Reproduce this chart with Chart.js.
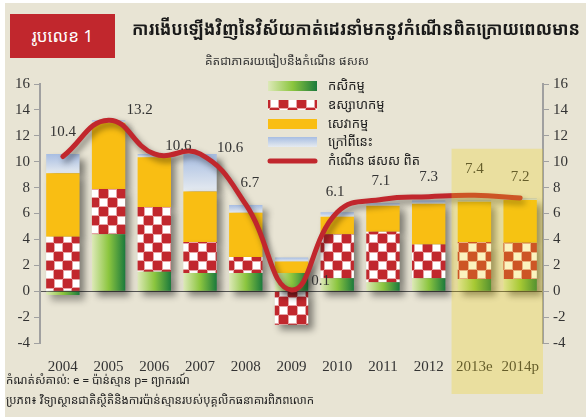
<!DOCTYPE html>
<html>
<head>
<meta charset="utf-8">
<script src="https://cdn.jsdelivr.net/npm/chart.js@4.4.1/dist/chart.umd.min.js"></script>
<style>
  html, body { margin: 0; padding: 0; background: #ffffff; }
  #wrap { position: relative; width: 586px; height: 417px; overflow: hidden; }
  #bg { position: absolute; left: 5px; top: 3px; right: 0; bottom: 0; background: #e8e4d4; }
  #chart { position: absolute; left: 0; top: 0; }
  .kh { font-family: "Noto Sans Khmer", "Khmer OS", "Hanuman", "DejaVu Sans", sans-serif; position: absolute; white-space: nowrap; }
  #badge { left: 10px; top: 14px; width: 105px; height: 44px; background: #c1272d; color: #fff; font-size: 17px; line-height: 44px; text-align: center; }
  #title { left: 132px; top: 16px; font-size: 18px; font-weight: bold; color: #1a1a1a; transform-origin: 0 0; }
  #sub { left: 205px; top: 52px; font-size: 12px; color: #333; }
  #note { left: 6px; top: 372px; font-size: 11.5px; color: #222; }
  #src { left: 6px; top: 392px; font-size: 11.5px; color: #222; }
</style>
</head>
<body>
<div id="wrap">
  <div id="bg"></div>
  <canvas id="chart" width="586" height="417"></canvas>
  <div class="kh" id="badge">រូបលេខ 1</div>
  <div class="kh" id="title">ការងើបឡើងវិញនៃវិស័យកាត់ដេរនាំមកនូវកំណើនពិតក្រោយពេលមាន</div>
  <div class="kh" id="sub">គិតជាភាគរយធៀបនឹងកំណើន ផសស</div>
  <div class="kh" id="note">កំណត់សំគាល់: e = ប៉ាន់ស្មាន p= ព្យាករណ៍</div>
  <div class="kh" id="src">ប្រភព៖ វិទ្យាស្ថានជាតិស្ថិតិនិងការប៉ាន់ស្មានរបស់បុគ្គលិកធនាគារពិភពលោក</div>
</div>
<script>
const years = ['2004', '2005', '2006', '2007', '2008', '2009', '2010', '2011', '2012', '2013e', '2014p'];
const agriculture = [-0.3, 4.4, 1.5, 1.4, 1.4, 1.4, 1.0, 0.7, 1.0, 0.95, 0.95];
const industry    = [4.2, 3.5, 5.0, 2.4, 1.25, -2.6, 3.4, 3.9, 2.6, 2.85, 2.8];
const services    = [4.9, 5.1, 3.85, 3.9, 3.4, 0.9, 1.35, 2.0, 3.15, 3.1, 3.3];
const other       = [1.5, 0.2, 0.25, 2.9, 0.6, 0.3, 0.35, 0.2, 0.25, 0.1, 0.1];
const gdpGrowth   = [10.4, 13.2, 10.6, 10.6, 6.7, 0.1, 6.1, 7.1, 7.3, 7.4, 7.2];
const seriesNames = ['កសិកម្ម', 'ឧស្សាហកម្ម', 'សេវាកម្ម', 'ក្រៅពីនេះ', 'កំណើន ផសស ពិត'];
const yTicks = [-4, -2, 0, 2, 4, 6, 8, 10, 12, 14, 16];

const RED = '#c1272d';
const serif = 'Liberation Serif';

// fit the title into the space right of the badge
const titleEl = document.getElementById('title');
const tw = titleEl.getBoundingClientRect().width;
if (tw > 448) titleEl.style.transform = 'scaleX(' + (448 / tw) + ')';

// checker pattern for industry (red / white with soft pink edges)
function checker(size) {
  const c = document.createElement('canvas');
  c.width = size * 2; c.height = size * 2;
  const g = c.getContext('2d');
  g.fillStyle = '#e7a3a5'; g.fillRect(0, 0, size * 2, size * 2);
  g.fillStyle = '#ffffff';
  g.fillRect(size + 1, 1, size - 2, size - 2);
  g.fillRect(1, size + 1, size - 2, size - 2);
  g.fillStyle = RED;
  g.fillRect(0, 0, size, size);
  g.fillRect(size, size, size, size);
  return g.createPattern(c, 'repeat');
}
const ctx = document.getElementById('chart').getContext('2d');
const checkerFill = checker(9);

function barEdges(chart, i) {
  const x = chart.scales.x;
  const w = (x.getPixelForValue(1) - x.getPixelForValue(0)) * 0.73;
  const cx = x.getPixelForValue(i);
  return [cx - w / 2, cx + w / 2];
}
function greenFill(c) {
  const chart = c.chart;
  if (!chart.chartArea || c.dataIndex === undefined) return '#8cc63f';
  const [l, r] = barEdges(chart, c.dataIndex);
  const g = chart.ctx.createLinearGradient(l, 0, r, 0);
  g.addColorStop(0, '#dde9b8');
  g.addColorStop(0.5, '#8cc63f');
  g.addColorStop(1, '#1b7a3c');
  return g;
}
function blueFill(c) {
  const chart = c.chart;
  if (!chart.chartArea || c.dataIndex === undefined) return '#c4d2ea';
  const i = c.dataIndex;
  let top = 0;
  [agriculture, industry, services, other].forEach(a => { if (a[i] > 0) top += a[i]; });
  const y = chart.scales.y;
  const t = y.getPixelForValue(top), b = y.getPixelForValue(top - other[i]);
  const g = chart.ctx.createLinearGradient(0, t, 0, b + 0.01);
  g.addColorStop(0, '#a7bde2');
  g.addColorStop(1, '#e6ebf0');
  return g;
}

const shadowPlugin = {
  id: 'shadows',
  beforeDatasetDraw(chart, args) {
    const c = chart.ctx;
    c.save();
    const isLine = args.meta.type === 'line';
    c.shadowColor = 'rgba(0,0,0,0.45)';
    c.shadowBlur = isLine ? 6 : 7;
    c.shadowOffsetX = isLine ? 3 : 5;
    c.shadowOffsetY = isLine ? 4 : 5;
  },
  afterDatasetDraw(chart) { chart.ctx.restore(); }
};

const labelShift = [[0, -24], [31, -10], [24, -8], [30, -6], [4, -21], [29, -9], [-2, -20], [-2, -18], [0, -20], [0, -26], [0, -21]];

const decorPlugin = {
  id: 'decor',
  afterDatasetsDraw(chart) {
    const c = chart.ctx, x = chart.scales.x, y = chart.scales.y;
    // value labels
    c.save();
    c.font = '15px "' + serif + '"';
    c.fillStyle = '#333';
    c.textAlign = 'center';
    c.textBaseline = 'middle';
    gdpGrowth.forEach((v, i) => {
      const px = x.getPixelForValue(i) + labelShift[i][0];
      const py = y.getPixelForValue(v) + labelShift[i][1];
      c.fillText(v.toFixed(1), px, py);
    });
    c.restore();
    // legend
    c.save();
    const lx = 268, lw = 49, lh = 10;
    const rows = [86, 105, 124, 142, 161];
    rows.forEach((ry, k) => {
      if (k === 0) {
        const g = c.createLinearGradient(lx, 0, lx + lw, 0);
        g.addColorStop(0, '#dde9b8'); g.addColorStop(0.5, '#8cc63f'); g.addColorStop(1, '#1b7a3c');
        c.fillStyle = g; c.fillRect(lx, ry - lh / 2, lw, lh);
      } else if (k === 1) {
        c.fillStyle = checkerFill; c.fillRect(lx, ry - lh / 2, lw, lh);
      } else if (k === 2) {
        c.fillStyle = '#f9be13'; c.fillRect(lx, ry - lh / 2, lw, lh);
      } else if (k === 3) {
        const g = c.createLinearGradient(0, ry - lh / 2, 0, ry + lh / 2);
        g.addColorStop(0, '#a7bde2'); g.addColorStop(1, '#e6ebf0');
        c.fillStyle = g; c.fillRect(lx, ry - lh / 2, lw, lh);
      } else {
        c.strokeStyle = RED; c.lineWidth = 5; c.lineCap = 'round';
        c.beginPath(); c.moveTo(lx + 2, ry); c.lineTo(lx + lw - 2, ry); c.stroke();
      }
      c.font = '13px "Noto Sans Khmer", "Khmer OS", "DejaVu Sans", sans-serif';
      c.fillStyle = '#222'; c.textBaseline = 'middle'; c.textAlign = 'left';
      c.fillText(seriesNames[k], 328, ry);
    });
    c.restore();
  },
  afterDraw(chart) {
    // forecast band
    const c = chart.ctx, x = chart.scales.x, y = chart.scales.y;
    const half = (x.getPixelForValue(1) - x.getPixelForValue(0)) / 2;
    const left = x.getPixelForValue(9) - half;
    c.save();
    c.fillStyle = 'rgba(240,212,20,0.27)';
    c.fillRect(left, y.getPixelForValue(11), chart.chartArea.right - left, chart.height - 23 - y.getPixelForValue(11));
    c.restore();
  }
};

const yScale = (pos) => ({
  type: 'linear',
  position: pos,
  min: -4, max: 16,
  afterBuildTicks(s) { s.ticks = yTicks.map(v => ({ value: v })); },
  afterFit(s) { s.width = pos === 'left' ? 40 : 43; },
  border: { display: true, color: '#a0a0a0', width: 2 },
  grid: {
    drawOnChartArea: pos === 'left',
    color: c => (c.tick && c.tick.value === 0) ? '#555' : 'rgba(0,0,0,0)',
    lineWidth: 1,
    tickColor: '#a0a0a0',
    tickLength: 6
  },
  ticks: { color: '#333', padding: 4, font: { family: serif, size: 15 } }
});

new Chart(ctx, {
  data: {
    labels: years,
    datasets: [
      { type: 'line', label: seriesNames[4], data: gdpGrowth, borderColor: RED, borderWidth: 5,
        tension: 0.45, pointRadius: 0, borderCapStyle: 'round', order: 0, yAxisID: 'y' },
      { type: 'bar', label: seriesNames[0], data: agriculture, backgroundColor: greenFill, order: 1 },
      { type: 'bar', label: seriesNames[1], data: industry, backgroundColor: checkerFill, order: 1 },
      { type: 'bar', label: seriesNames[2], data: services, backgroundColor: '#f9be13', order: 1 },
      { type: 'bar', label: seriesNames[3], data: other, backgroundColor: blueFill, order: 1 }
    ]
  },
  options: {
    responsive: false,
    animation: false,
    layout: { padding: { top: 84, left: 0, right: 0, bottom: 0 } },
    datasets: { bar: { barPercentage: 0.73, categoryPercentage: 1, stack: 'gdp' } },
    plugins: { legend: { display: false }, tooltip: { enabled: false } },
    scales: {
      x: {
        stacked: true,
        offset: true,
        grid: { display: false },
        border: { display: false },
        afterFit(s) { s.height = 74; },
        ticks: { color: '#333', padding: 7, font: { family: serif, size: 15 } }
      },
      y: Object.assign(yScale('left'), { stacked: true }),
      y1: yScale('right')
    }
  },
  plugins: [shadowPlugin, decorPlugin]
});
</script>
</body>
</html>
